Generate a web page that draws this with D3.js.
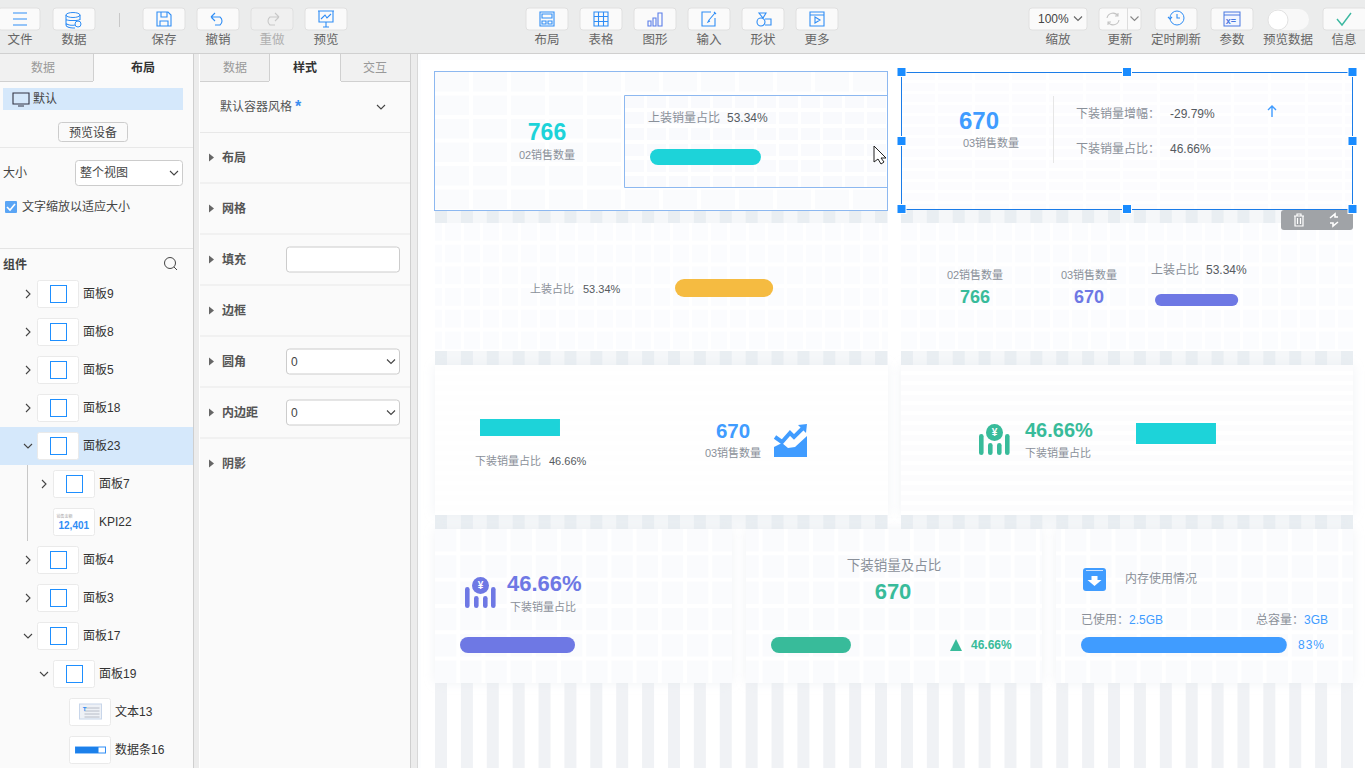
<!DOCTYPE html>
<html>
<head>
<meta charset="utf-8">
<script src="https://cdn.jsdelivr.net/npm/d3@7"></script>
<style>
  html, body { margin: 0; padding: 0; background: #fff; overflow: hidden; }
  text { font-family: "Liberation Sans", "Noto Sans CJK SC", sans-serif; dominant-baseline: central; }
</style>
</head>
<body>
<div id="chart-area"></div>
<script>
// Values
var salesCount = [766, 670];
var salesLabels = ["02销售数量", "03销售数量"];
var upperShare = 53.34;
var lowerShare = 46.66;
var lowerGrowth = -29.79;
var memoryUsed = 2.5;
var memoryTotal = 3;
var memoryPct = 83;
var barValues = [upperShare, upperShare, upperShare, lowerShare, lowerShare, lowerShare, lowerShare, memoryPct];

// Labels
var toolbarLeft = ["文件", "数据", "保存", "撤销", "重做", "预览"];
var toolbarMid = ["布局", "表格", "图形", "输入", "形状", "更多"];
var toolbarRight = ["缩放", "更新", "定时刷新", "参数", "预览数据", "信息"];
var styleRows = ["布局", "网格", "填充", "边框", "圆角", "内边距", "阴影"];
var treeNames = ["面板9", "面板8", "面板5", "面板18", "面板23", "面板7", "KPI22", "面板4", "面板3", "面板17", "面板19", "文本13", "数据条16"];
var treeLevels = [0, 0, 0, 0, 0, 1, 1, 0, 0, 0, 1, 2, 2];
var treeOpen = ["c", "c", "c", "c", "o", "c", "", "c", "c", "o", "o", "", ""];

// Layout of the bars, same order as barValues: left, top, full track width, height, radius, colour
var teal = "#1dd3d9", blue = "#409cff", green = "#38bb9a", purple = "#6e78e4", yellow = "#f5bb41";
var barSlots = [
  [650, 149, 208, 16, 8, teal],
  [675, 279, 184, 18, 9, yellow],
  [1155, 294, 156, 12, 6, purple],
  [480, 419, 171.4, 17, 0, teal],
  [1136, 423, 171.4, 21, 0, teal],
  [460, 637, 246.5, 16, 8, purple],
  [771, 637, 171.4, 16, 8, green],
  [1081, 637, 248, 16, 8, blue]
];

var width = 1365, height = 768;
var fmtPct = function(d) { return d.toFixed(2) + "%"; };
var iconBlue = "#2f8df5", grayText = "#8a9099", darkText = "#555a60", uiText = "#666";

var svg = d3.select("#chart-area").append("svg")
    .attr("width", width)
    .attr("height", height)
    .style("display", "block");
var defs = svg.append("defs");

function label(parent, x, y, str, size, color, weight, anchor) {
  return parent.append("text")
    .attr("x", x).attr("y", y)
    .attr("font-size", size + "px")
    .attr("fill", color)
    .attr("font-weight", weight || "normal")
    .attr("text-anchor", anchor || "start")
    .text(str);
}
function box(parent, x, y, w, h, fill, stroke, r) {
  return parent.append("rect")
    .attr("x", x).attr("y", y).attr("width", w).attr("height", h)
    .attr("rx", r || 0)
    .attr("fill", fill)
    .attr("stroke", stroke || "none");
}
function line(parent, x1, y1, x2, y2, color) {
  return parent.append("line")
    .attr("x1", x1).attr("y1", y1).attr("x2", x2).attr("y2", y2)
    .attr("stroke", color).attr("stroke-width", 1);
}
function chevron(parent, x, y, down, color) {
  var d = down ? "M-4,-2L0,2L4,-2" : "M-2,-4L2,0L-2,4";
  parent.append("path").attr("transform", "translate(" + x + "," + y + ")")
    .attr("d", d).attr("fill", "none").attr("stroke", color || "#444").attr("stroke-width", 1.1);
}
function iconPath(parent, x, y, d, color, sw) {
  return parent.append("path").attr("transform", "translate(" + x + "," + y + ")")
    .attr("d", d).attr("fill", "none").attr("stroke", color || iconBlue).attr("stroke-width", sw || 1.1);
}

// Cell patterns on the card backgrounds
function tile(id, w, h, gapX, gapY, color, dx, dy) {
  var p = defs.append("pattern").attr("id", id)
    .attr("patternUnits", "userSpaceOnUse")
    .attr("width", w).attr("height", h)
    .attr("x", dx).attr("y", dy);
  p.append("rect").attr("width", w).attr("height", h).attr("fill", "#fff");
  p.append("rect").attr("width", w - gapX).attr("height", h - gapY).attr("fill", color);
}
tile("tileA", 38, 23.5, 4, 4, "#fafbfd", 435, 72);
tile("tileB", 37, 11, 3, 3, "#fcfcfe", 901, 72);
tile("tileC", 22, 16, 3, 4, "#f9fafd", 625, 96);
tile("tileD", 19, 21.7, 3, 4, "#fbfcfe", 901, 223);
tile("tileE", 48, 10, 0, 4, "#fefefe", 435, 365);
tile("tileG", 48, 10, 0, 4, "#fcfcfd", 901, 365);
tile("tileF", 25.2, 26.3, 4, 4, "#fafbfd", 435, 529);

// Canvas and stripes
var canvas = svg.append("g");
box(canvas, 418, 54, 947, 714, "#fcfdfe");
box(canvas, 421, 60, 944, 708, "#fff");
var stripeBands = [[210, 13, "#f5f7f9"], [351, 14, "#f5f7f9"], [515, 14, "#f5f7f9"]];
stripeBands.forEach(function(b) {
  box(canvas, 435, b[0], 453, b[1], b[2]);
  box(canvas, 901, b[0], 452, b[1], b[2]);
});
var stripeX = d3.scaleLinear().domain([0, 35]).range([435, 1341]);
var stripeIdx = d3.range(36);
stripeBands.concat([[683, 85, "#fff"]]).forEach(function(b) {
  canvas.selectAll(null).data(stripeIdx).enter().append("rect")
    .attr("x", function(i) { return stripeX(i); })
    .attr("y", b[0])
    .attr("width", 12)
    .attr("height", b[1])
    .attr("fill", b[0] == 683 ? "#f0f2f5" : "#e9eef2");
});

// Cards
var shadow = defs.append("filter").attr("id", "soft")
  .attr("x", "-10%").attr("y", "-20%").attr("width", "120%").attr("height", "140%");
shadow.append("feDropShadow").attr("dx", 0).attr("dy", 0).attr("stdDeviation", 6)
  .attr("flood-color", "#dfe4ea").attr("flood-opacity", 0.45);

var cards = svg.append("g");
box(cards, 435, 72, 452, 138, "url(#tileA)");
box(cards, 902, 72, 451, 138, "url(#tileB)");
box(cards, 435, 223, 453, 128, "url(#tileD)");
box(cards, 901, 223, 452, 128, "url(#tileD)");
box(cards, 435, 365, 453, 150, "url(#tileE)").attr("filter", "url(#soft)");
box(cards, 901, 365, 452, 150, "url(#tileG)").attr("filter", "url(#soft)");
box(cards, 435, 529, 297, 154, "url(#tileF)").attr("filter", "url(#soft)");
box(cards, 746, 529, 296, 154, "url(#tileF)").attr("filter", "url(#soft)");
box(cards, 1056, 529, 297, 154, "url(#tileF)").attr("filter", "url(#soft)");
box(cards, 434.5, 71.5, 453, 139, "none", "#8db8f0");
box(cards, 625, 96, 263, 92, "url(#tileC)");
line(cards, 624.5, 95.5, 888, 95.5, "#8db8f0");
line(cards, 624.5, 187.5, 888, 187.5, "#8db8f0");
line(cards, 624.5, 95.5, 624.5, 187.5, "#8db8f0");
line(cards, 887.5, 71, 887.5, 211, "#8db8f0");

// Bars from the values
var bars = svg.append("g");
barValues.forEach(function(v, i) {
  var s = barSlots[i];
  var scale = d3.scaleLinear().domain([0, 100]).range([0, s[2]]);
  bars.append("rect")
    .attr("x", s[0]).attr("y", s[1])
    .attr("width", scale(v)).attr("height", s[3])
    .attr("rx", s[4])
    .attr("fill", s[5]);
});

// KPI texts
var kpi = svg.append("g");
label(kpi, 547, 132, salesCount[0], 23, teal, "bold", "middle");
label(kpi, 547, 155, salesLabels[0], 11, grayText, "normal", "middle");
label(kpi, 648, 118, "上装销量占比", 12, grayText);
label(kpi, 727, 118, fmtPct(upperShare), 12, darkText);

label(kpi, 979, 120, salesCount[1], 24, blue, "bold", "middle");
label(kpi, 991, 143, salesLabels[1], 11, grayText, "normal", "middle");
line(kpi, 1053.5, 96, 1053.5, 163, "#e6e6e6");
label(kpi, 1076, 114, "下装销量增幅：", 12, grayText);
label(kpi, 1170, 114, fmtPct(lowerGrowth), 12, darkText);
iconPath(kpi, 1272, 111, "M0,6V-5M-4,-1L0,-5L4,-1", blue, 1.4);
label(kpi, 1076, 148.5, "下装销量占比：", 12, grayText);
label(kpi, 1170, 148.5, fmtPct(lowerShare), 12, darkText);

label(kpi, 530, 288.5, "上装占比", 11, grayText);
label(kpi, 583, 288.5, fmtPct(upperShare), 11, darkText);

label(kpi, 975, 275, salesLabels[0], 11, grayText, "normal", "middle");
label(kpi, 975, 297, salesCount[0], 18, green, "bold", "middle");
label(kpi, 1089, 275, salesLabels[1], 11, grayText, "normal", "middle");
label(kpi, 1089, 297, salesCount[1], 18, purple, "bold", "middle");
label(kpi, 1151, 270, "上装占比", 12, grayText);
label(kpi, 1206, 270, fmtPct(upperShare), 12, darkText);

label(kpi, 475, 461, "下装销量占比", 11, grayText);
label(kpi, 549, 461, fmtPct(lowerShare), 11, darkText);
label(kpi, 733, 430, salesCount[1], 20.5, blue, "bold", "middle");
label(kpi, 733, 453, salesLabels[1], 11, grayText, "normal", "middle");

label(kpi, 1025, 430, fmtPct(lowerShare), 20, green, "bold");
label(kpi, 1025, 453, "下装销量占比", 11, grayText);

label(kpi, 507, 583, fmtPct(lowerShare), 22, purple, "bold");
label(kpi, 510, 607, "下装销量占比", 11, grayText);

label(kpi, 894, 565.5, "下装销量及占比", 13.5, grayText, "normal", "middle");
label(kpi, 893, 591, salesCount[1], 22, green, "bold", "middle");
kpi.append("path").attr("transform", "translate(956,645)").attr("d", "M0,-6L6,6H-6Z").attr("fill", green);
label(kpi, 971, 645, fmtPct(lowerShare), 12, green, "bold");

label(kpi, 1125, 578.5, "内存使用情况", 12, grayText);
label(kpi, 1081, 619.5, "已使用：", 12, grayText);
label(kpi, 1129, 619.5, memoryUsed + "GB", 12, blue);
label(kpi, 1256, 619.5, "总容量：", 12, grayText);
label(kpi, 1304, 619.5, memoryTotal + "GB", 12, blue);
label(kpi, 1298, 645, memoryPct + "%", 12, blue).attr("letter-spacing", "1px");

// Card icons
function moneyIcon(x, y, color) {
  var g = kpi.append("g").attr("transform", "translate(" + x + "," + y + ")");
  g.append("circle").attr("cx", 15.5).attr("cy", 8.5).attr("r", 8.5).attr("fill", color);
  label(g, 15.5, 8.5, "¥", 10, "#fff", "bold", "middle");
  [[0, 10, 21], [9, 19, 12], [18, 19, 12], [26, 10, 21]].forEach(function(b) {
    box(g, b[0], b[1], 4.6, b[2], color, null, 2.3);
  });
}
moneyIcon(979, 424, green);
moneyIcon(465, 577, purple);
var trendIcon = kpi.append("g").attr("transform", "translate(774,424)");
trendIcon.append("path").attr("d", "M0,23L8,19L14,24L21,23L33,12V33H0Z").attr("fill", blue);
trendIcon.append("path").attr("d", "M1,13L8,18L16,9L20,13L29,4")
  .attr("fill", "none").attr("stroke", blue).attr("stroke-width", 4);
trendIcon.append("path").attr("d", "M24,1L33,0L32,9Z").attr("fill", blue);
kpi.append("rect").attr("x", 1083).attr("y", 568).attr("width", 23).attr("height", 23).attr("rx", 3).attr("fill", blue);
kpi.append("path").attr("transform", "translate(1094.5,581)").attr("d", "M-3,-5H3V-1H7L0,5L-7,-1H-3Z").attr("fill", "#fff");
line(kpi, 1086, 570.5, 1103, 570.5, "#cfe4ff");

// Selection box
var sel = svg.append("g");
box(sel, 1281, 210, 72, 20, "#a0a3a7", null, 3);
box(sel, 901.5, 72.5, 451, 137, "none", "#1a7ce8");
[901.5, 1127, 1352.5].forEach(function(hx) {
  [72, 141, 209].forEach(function(hy) {
    if (hx == 1127 && hy == 141) return;
    sel.append("rect").attr("x", hx - 5).attr("y", hy - 5).attr("width", 10).attr("height", 10).attr("fill", "#fff");
    sel.append("rect").attr("x", hx - 4).attr("y", hy - 4).attr("width", 8).attr("height", 8).attr("fill", "#1a8cff");
  });
});
iconPath(sel, 1299, 220, "M-5,-4H5M-2,-4V-6H2V-4M-4,-4V6H4V-4M-1.5,-2V4M1.5,-2V4", "#fff", 1.2);
iconPath(sel, 1334, 220, "M-4,-2L1,-6V-3H4M4,2L-1,6V3H-4", "#fff", 1.6);
sel.append("path").attr("transform", "translate(874,146)")
  .attr("d", "M0,0V16L4,13L7,18L10,16L7,12H12Z")
  .attr("fill", "#fff").attr("stroke", "#222").attr("stroke-width", 1);

// Toolbar
var bar = svg.append("g");
box(bar, 0, 0, width, 54, "#ebecec");
line(bar, 0, 53.5, width, 53.5, "#cfcfcf");
line(bar, 119.5, 13, 119.5, 27, "#c8c8c8");

function toolButton(x, w, txt, cx, muted) {
  var g = bar.append("g");
  g.append("rect").attr("x", x).attr("y", 8).attr("width", w).attr("height", 22).attr("rx", 3)
    .attr("fill", muted ? "#f0f0f0" : "#fafafa")
    .attr("stroke", "#e0e0e0");
  label(g, cx === undefined ? x + w / 2 : cx, 40, txt, 12.5, muted ? "#b0b0b0" : uiText, "normal", "middle");
  return g;
}
var leftX = [-2, 53, 143, 197, 251, 305];
toolbarLeft.forEach(function(t, i) {
  toolButton(leftX[i], 42, t, i == 0 ? 20 : undefined, i == 4);
});
var midScale = d3.scalePoint().domain(toolbarMid).range([547, 817]);
toolbarMid.forEach(function(t) { toolButton(midScale(t) - 21, 42, t); });
var rightX = [1029, 1099, 1155, 1211, 1268, 1323];
var rightW = [58, 42, 42, 42, 0, 44];
var rightCx = [1058, 1120, 1176, 1232, 1288, 1344];
toolbarRight.forEach(function(t, i) {
  if (rightW[i]) toolButton(rightX[i], rightW[i], t, rightCx[i]);
  else label(bar, rightCx[i], 40, t, 12.5, uiText, "normal", "middle");
});
// button glyphs
iconPath(bar, 20, 19, "M-7,-6H7M-7,0H7M-7,6H7");
bar.append("ellipse").attr("cx", 73).attr("cy", 15).attr("rx", 7).attr("ry", 2.5).attr("fill", "none").attr("stroke", iconBlue);
iconPath(bar, 73, 15, "M-7,0V10C-7,12 -3,13 0,13H2M7,0V5M-7,4C-7,6 7,6 7,4M-7,8C-7,10 -1,10.5 2,10");
bar.append("circle").attr("cx", 78).attr("cy", 24).attr("r", 3).attr("fill", "none").attr("stroke", iconBlue);
iconPath(bar, 164, 19, "M-7,-7H4L7,-4V7H-7ZM-3,-7V-2H3V-7M-4,7V2H4V7");
iconPath(bar, 218, 19, "M-7,-2H2A5,5 0 0 1 2,6H-3M-7,-2L-3,-6M-7,-2L-3,2");
iconPath(bar, 272, 19, "M7,-2H-2A5,5 0 0 0 -2,6H3M7,-2L3,-6M7,-2L3,2", "#c8c8c8");
iconPath(bar, 326, 18, "M-8,-7H8M-7,-7V4H7V-7M-5,1L-1,-3L1,0L5,-4M-3,9H3M0,4V9");
iconPath(bar, 547, 19, "M-7,-7H7V7H-7ZM-5,-5H5V-1H-5ZM-5,2H-1V5H-5ZM1,2H5V5H1Z");
iconPath(bar, 601, 19, "M-7,-7H7V7H-7ZM-7,-2.5H7M-7,2.5H7M-2.5,-7V7M2.5,-7V7");
iconPath(bar, 655, 19, "M-7,2H-4V7H-7ZM-2,-1H1V7H-2ZM3,-6H7V7H3Z", "#5a7de8");
iconPath(bar, 709, 19, "M6,-1V7H-7V-7H2M0,1L6,-6M5,-7L7,-5M0,1L-1,3L1,2");
iconPath(bar, 763, 19, "M-4,-6H3L0,-1ZM-2,3m-4,0a4,4 0 1 0 8,0a4,4 0 1 0 -8,0M2,0H8V6H2");
iconPath(bar, 817, 19, "M-7,-7H7V7H-7ZM-7,-4H7M-2,-2L3,1L-2,4Z");
label(bar, 1038, 18.5, "100%", 12, "#444");
chevron(bar, 1078, 18.5, true, "#666");
iconPath(bar, 1113, 19, "M-6,-1A6,6 0 0 1 5,-3M6,1A6,6 0 0 1 -5,3M5,-6V-3H2M-5,6V3H-2", "#c4c4c4");
line(bar, 1127.5, 8, 1127.5, 30, "#ddd");
chevron(bar, 1134.5, 18.5, true, "#888");
bar.append("circle").attr("cx", 1177).attr("cy", 18).attr("r", 7).attr("fill", "none").attr("stroke", iconBlue);
iconPath(bar, 1177, 18, "M0,-4V0H3M-9,-1L-7,1L-5,-1");
bar.append("rect").attr("x", 1224).attr("y", 12).attr("width", 16).attr("height", 14).attr("fill", "#f3f6ff").attr("stroke", "#4a78e0");
line(bar, 1224, 15, 1240, 15, "#4a78e0");
label(bar, 1231, 21, "x=", 9, "#4a78e0", "bold", "middle");
box(bar, 1268, 9, 41, 21, "#f8f8f8", null, 10.5);
bar.append("circle").attr("cx", 1278).attr("cy", 20).attr("r", 10).attr("fill", "#fff").attr("stroke", "#e2e2e2");
iconPath(bar, 1344, 19, "M-7,0L-2,6L7,-6", "#3bb8a0", 1.4);

// Left panel
var left = svg.append("g");
box(left, 0, 54, 193, 714, "#fafafa");
box(left, 193, 54, 6, 714, "#ececec");
line(left, 193.5, 54, 193.5, 768, "#cfcfcf");
box(left, 0, 54, 93, 27, "#f1f1f1");
line(left, 0, 81.5, 93, 81.5, "#d0d0d0");
line(left, 93.5, 54, 93.5, 81, "#d0d0d0");
line(left, 0, 53.5, 193, 53.5, "#d0d0d0");
label(left, 43, 67.5, "数据", 12, "#999", "normal", "middle");
label(left, 143, 67.5, "布局", 12, "#333", "bold", "middle");
box(left, 3, 88, 180, 22, "#d5e8fb");
iconPath(left, 21, 99, "M-8,-6H8V5H-8ZM-3,7H3", "#334", 1.1);
label(left, 33, 98.5, "默认", 12, "#444");
box(left, 58.5, 122.5, 69, 19, "#fafafa", "#ccc", 3);
label(left, 93, 132.5, "预览设备", 12, "#444", "normal", "middle");
line(left, 0, 147.5, 193, 147.5, "#e8e8e8");
label(left, 3, 172.5, "大小", 12, "#444");
box(left, 75.5, 160.5, 107, 25, "#fff", "#ccc", 3);
label(left, 80, 172.5, "整个视图", 12, "#444");
chevron(left, 174, 173, true, "#444");
box(left, 5, 201, 12, 12, "#5aa5f5", null, 1);
iconPath(left, 11, 207, "M-4,0L-1,3L4,-3", "#fff", 1.6);
label(left, 22, 206.5, "文字缩放以适应大小", 12, "#444");
line(left, 0, 248.5, 193, 248.5, "#e4e4e4");
label(left, 3, 264.5, "组件", 12, "#444", "bold");
left.append("circle").attr("cx", 170).attr("cy", 263).attr("r", 5.5).attr("fill", "none").attr("stroke", "#444");
line(left, 174, 267, 177, 270, "#444");

// Tree of components
var rowY = d3.scaleLinear().domain([0, treeNames.length - 1]).range([294, 750]);
box(left, 0, rowY(4) - 19, 193, 38, "#d5e8fb");
line(left, 27.5, rowY(4) + 19, 27.5, rowY(6) + 19, "#c8c8c8");
var levelX = d3.scaleLinear().domain([0, 2]).range([37.5, 69.5]);
treeNames.forEach(function(name, i) {
  var y = rowY(i), x = levelX(treeLevels[i]);
  box(left, x, y - 13.5, 41, 27, "#fff", "#eaeaea", 2);
  if (treeOpen[i]) chevron(left, x - 9.5, y, treeOpen[i] == "o", "#444");
  if (name == "KPI22") {
    label(left, x + 3, y - 6, "销售金额", 4, "#aaa");
    label(left, x + 5, y + 3.5, "12,401", 10, "#2f8df5", "bold");
  } else if (name == "文本13") {
    box(left, x + 10, y - 8, 22, 15, "#eef1f6", "#c8d6ea");
    iconPath(left, x + 21, y, "M-6,-4H9M-6,-1H9M-6,2H9M-6,5H9", "#a8b0bc", 0.8);
    label(left, x + 15, y - 3, "T", 6, "#2f8df5", "bold", "middle");
  } else if (name == "数据条16") {
    box(left, x + 6, y - 3, 30, 6, "#fff", iconBlue);
    box(left, x + 6, y - 3, 23, 6, "#1c80ea");
  } else {
    box(left, x + 13, y - 8.5, 16, 17, "#fff", "#1e8fff");
  }
  label(left, x + 45.5, y, name, 12, "#333");
});

// Style panel
var style = svg.append("g");
box(style, 200, 54, 211, 714, "#fafafa");
box(style, 411, 54, 7, 714, "#ececec");
line(style, 410.5, 54, 410.5, 768, "#cfcfcf");
line(style, 417.5, 54, 417.5, 768, "#d8d8d8");
box(style, 200, 54, 69, 27, "#f1f1f1");
box(style, 341, 54, 69, 27, "#f1f1f1");
line(style, 200, 53.5, 410, 53.5, "#d0d0d0");
line(style, 200, 81.5, 269, 81.5, "#d0d0d0");
line(style, 341, 81.5, 410, 81.5, "#d0d0d0");
line(style, 269.5, 54, 269.5, 81, "#d0d0d0");
line(style, 340.5, 54, 340.5, 81, "#d0d0d0");
label(style, 235, 67.5, "数据", 12, "#999", "normal", "middle");
label(style, 305, 67.5, "样式", 12, "#333", "bold", "middle");
label(style, 375, 67.5, "交互", 12, "#999", "normal", "middle");
label(style, 220, 107, "默认容器风格", 12, "#555");
label(style, 295, 106, "*", 16, "#3a8ef0", "bold");
chevron(style, 381, 107, true, "#444");
line(style, 200, 132.5, 410, 132.5, "#e8e8e8");

var styleY = d3.scaleLinear().domain([0, styleRows.length - 1]).range([157.5, 463.5]);
styleRows.forEach(function(name, i) {
  var y = styleY(i);
  style.append("path").attr("transform", "translate(211," + y + ")").attr("d", "M-2,-4L3,0L-2,4Z").attr("fill", "#666");
  label(style, 222, y, name, 12, "#555", "bold");
  if (i < styleRows.length - 1) line(style, 200, y + 25.5, 410, y + 25.5, "#e8e8e8");
  if (name == "填充" || name == "圆角" || name == "内边距") {
    box(style, 286.5, y - 12.5, 113, 25, "#fff", "#ccc", 3);
  }
  if (name == "圆角" || name == "内边距") {
    label(style, 291, y, "0", 12, "#444");
    chevron(style, 391, y, true, "#444");
  }
});
</script>
</body>
</html>
